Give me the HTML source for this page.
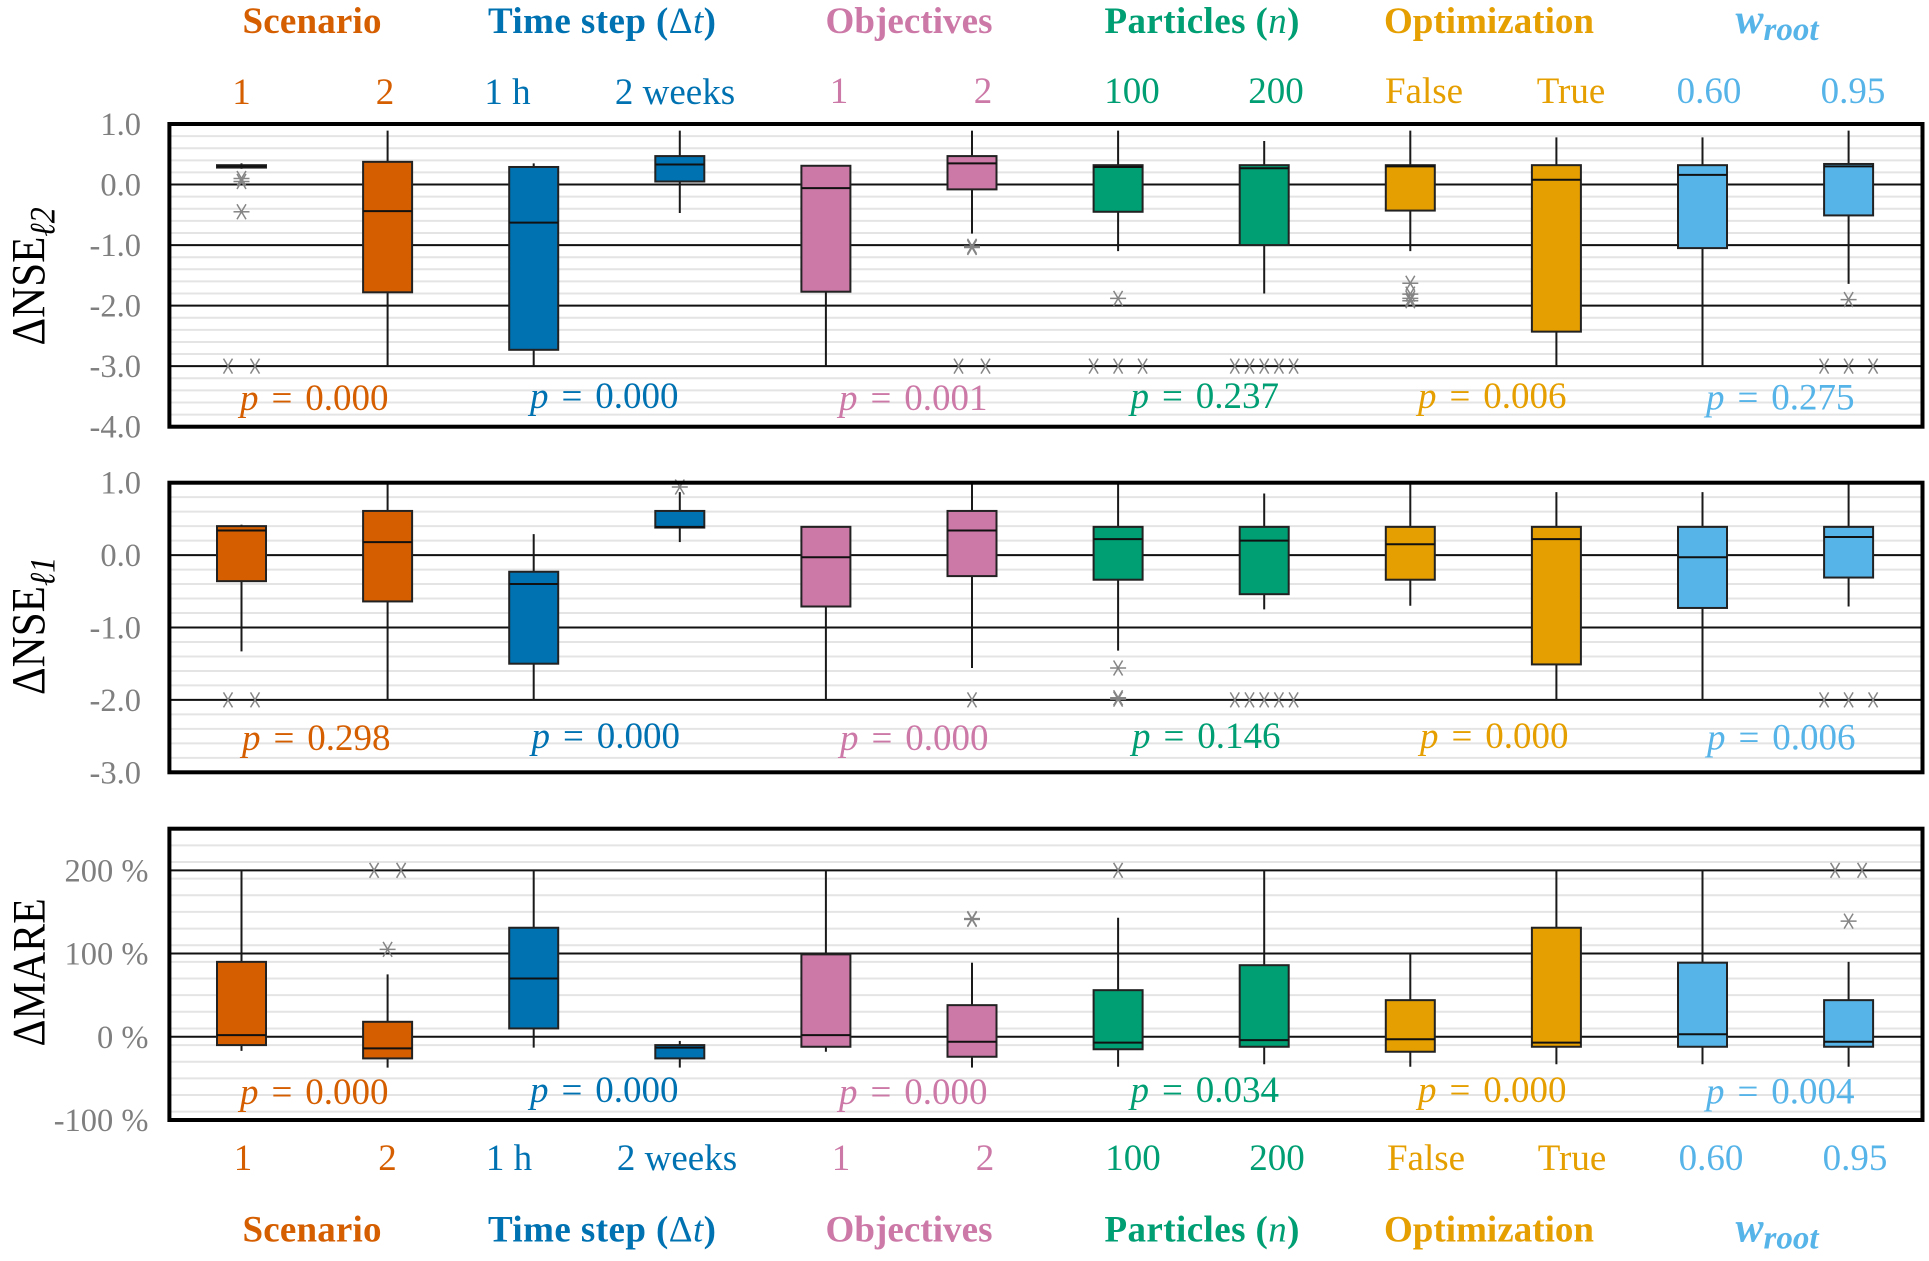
<!DOCTYPE html>
<html lang="en">
<head>
<meta charset="utf-8">
<title>Box plots of delta NSE and MARE by factor</title>
<style>
html,body{margin:0;padding:0;background:#fff;}
svg{display:block;font-family:"Liberation Serif",serif;}
.ttl{font-size:37px;font-weight:bold;text-anchor:middle;}
.cat{font-size:37px;text-anchor:middle;}
.c1{fill:#D55E00}.c2{fill:#0072B2}.c3{fill:#CC79A7}.c4{fill:#009E73}.c5{fill:#E69F00}.c6{fill:#56B4E9}
</style>
</head>
<body>
<svg id="chart" width="1929" height="1261" viewBox="0 0 1929 1261" xmlns="http://www.w3.org/2000/svg">
  <g id="panels"></g>
  <g>
    <text class="ttl c1" x="312" y="33" textLength="139">Scenario</text>
    <text class="ttl c2" x="602" y="33" textLength="228">Time step (<tspan font-weight="normal">Δ</tspan><tspan font-style="italic" font-weight="normal">t</tspan>)</text>
    <text class="ttl c3" x="909" y="33" textLength="167">Objectives</text>
    <text class="ttl c4" x="1202" y="33" textLength="195">Particles (<tspan font-style="italic" font-weight="normal">n</tspan>)</text>
    <text class="ttl c5" x="1489" y="33" textLength="210">Optimization</text>
    <text class="ttl c6" x="1777" y="33" font-style="italic" font-size="42" style="font-size:42px">w<tspan font-size="33" style="font-size:33px" dy="7">root</tspan></text>
  </g>
  <g>
    <text class="cat c1" x="241.5" y="104">1</text>
    <text class="cat c1" x="385" y="104">2</text>
    <text class="cat c2" x="507.5" y="104">1 h</text>
    <text class="cat c2" x="675" y="104">2 weeks</text>
    <text class="cat c3" x="839" y="103">1</text>
    <text class="cat c3" x="983" y="103">2</text>
    <text class="cat c4" x="1132" y="103">100</text>
    <text class="cat c4" x="1276" y="103">200</text>
    <text class="cat c5" x="1424" y="103">False</text>
    <text class="cat c5" x="1571" y="103">True</text>
    <text class="cat c6" x="1709" y="103">0.60</text>
    <text class="cat c6" x="1853" y="103">0.95</text>
  </g>
  <g>
    <text class="cat c1" x="243" y="1170">1</text>
    <text class="cat c1" x="387.5" y="1170">2</text>
    <text class="cat c2" x="509" y="1170">1 h</text>
    <text class="cat c2" x="677" y="1170">2 weeks</text>
    <text class="cat c3" x="841" y="1170">1</text>
    <text class="cat c3" x="985" y="1170">2</text>
    <text class="cat c4" x="1133" y="1170">100</text>
    <text class="cat c4" x="1277" y="1170">200</text>
    <text class="cat c5" x="1426" y="1170">False</text>
    <text class="cat c5" x="1572" y="1170">True</text>
    <text class="cat c6" x="1711" y="1170">0.60</text>
    <text class="cat c6" x="1855" y="1170">0.95</text>
  </g>
  <g>
    <text class="ttl c1" x="312" y="1241.5" textLength="139">Scenario</text>
    <text class="ttl c2" x="602" y="1241.5" textLength="228">Time step (<tspan font-weight="normal">Δ</tspan><tspan font-style="italic" font-weight="normal">t</tspan>)</text>
    <text class="ttl c3" x="909" y="1241.5" textLength="167">Objectives</text>
    <text class="ttl c4" x="1202" y="1241.5" textLength="195">Particles (<tspan font-style="italic" font-weight="normal">n</tspan>)</text>
    <text class="ttl c5" x="1489" y="1241.5" textLength="210">Optimization</text>
    <text class="ttl c6" x="1777" y="1241.5" font-style="italic" style="font-size:42px">w<tspan style="font-size:33px" dy="7">root</tspan></text>
  </g>
  <g fill="#000">
    <text transform="translate(44.5 345.5) rotate(-90) scale(1 1.12)" font-size="43">ΔNSE<tspan font-size="32" font-style="italic" dy="9">ℓ2</tspan></text>
    <text transform="translate(44.5 695) rotate(-90) scale(1 1.12)" font-size="43">ΔNSE<tspan font-size="32" font-style="italic" dy="9">ℓ1</tspan></text>
    <text transform="translate(44.5 1046.5) rotate(-90) scale(1 1.12)" font-size="42">ΔMARE</text>
  </g>
</svg>
<script>
const categories = ["Scenario 1","Scenario 2","1 h","2 weeks","Objectives 1","Objectives 2","100","200","False","True","0.60","0.95"];

const nse2Ticks = ["1.0","0.0","-1.0","-2.0","-3.0","-4.0"];
const nse2TickValues = [1,0,-1,-2,-3,-4];
const nse2Q1 = [0.28,-1.78,-2.73,0.05,-1.77,-0.08,-0.45,-1.0,-0.43,-2.43,-1.05,-0.51];
const nse2Median = [0.30,-0.44,-0.63,0.33,-0.06,0.35,0.29,0.27,0.30,0.08,0.16,0.30];
const nse2Q3 = [0.32,0.375,0.29,0.47,0.31,0.47,0.32,0.32,0.32,0.32,0.32,0.34];
const nse2Low = [0.26,-3,-3,-0.47,-3,-0.81,-1.1,-1.8,-1.1,-3,-3,-1.64];
const nse2High = [0.35,0.89,0.35,0.89,0.31,0.89,0.89,0.72,0.89,0.78,0.78,0.89];
const nse2Outliers = [[0.05,0.1,-0.45,-3,-3],[],[],[],[],[-1.02,-1.04,-3,-3],[-1.88,-3,-3,-3],[-3,-3,-3,-3,-3],[-1.63,-1.81,-1.88,-1.92],[],[],[-1.9,-3,-3,-3]];
const nse2PValues = ["0.000","0.000","0.001","0.237","0.006","0.275"];

const nse1Ticks = ["1.0","0.0","-1.0","-2.0","-3.0"];
const nse1TickValues = [1,0,-1,-2,-3];
const nse1Q1 = [-0.36,-0.64,-1.5,0.38,-0.71,-0.29,-0.34,-0.54,-0.34,-1.51,-0.73,-0.31];
const nse1Median = [0.34,0.18,-0.40,0.39,-0.03,0.34,0.22,0.20,0.15,0.22,-0.03,0.25];
const nse1Q3 = [0.40,0.61,-0.23,0.61,0.39,0.61,0.39,0.39,0.39,0.39,0.39,0.39];
const nse1Low = [-1.33,-2,-2,0.18,-2,-1.56,-1.32,-0.75,-0.7,-2,-2,-0.71];
const nse1High = [0.42,1,0.29,0.87,0.39,1,1,0.85,1,0.87,0.87,1];
const nse1Outliers = [[-2,-2],[],[],[0.94],[],[-2],[-1.56,-1.97,-1.99],[-2,-2,-2,-2,-2],[],[],[],[-2,-2,-2]];
const nse1PValues = ["0.298","0.000","0.000","0.146","0.000","0.006"];

const mareTicks = ["200 %","100 %","0 %","-100 %"];
const mareTickValues = [200,100,0,-100];
const mareQ1 = [-10,-26,10,-26,-12,-24,-15,-12,-18,-12,-12,-12];
const mareMedian = [2,-14,70,-13,2,-6,-7,-4,-3,-7,3,-6];
const mareQ3 = [90,18,131,-10,99,38,56,86,44,131,89,44];
const mareLow = [-17,-37,-13,-37,-18,-37,-36,-33,-36,-33,-33,-36];
const mareHigh = [200,75,200,-5,200,89,143,200,100,200,200,90];
const mareOutliers = [[],[105,200,200],[],[],[],[141,142],[200],[],[],[],[],[139,200,200]];
const marePValues = ["0.000","0.000","0.000","0.034","0.000","0.004"];

const SVGNS = "http://www.w3.org/2000/svg";
const seriesColors = ["#D55E00","#D55E00","#0072B2","#0072B2","#CC79A7","#CC79A7","#009E73","#009E73","#E69F00","#E69F00","#56B4E9","#56B4E9"];
const groupColors = ["#D55E00","#0072B2","#CC79A7","#009E73","#E69F00","#56B4E9"];
const plotLeft = 169.4, plotRight = 1922.5;

function xBand(i){ return 241.5 + 146.1 * i; }
function linearScale(d0, d1, r0, r1){
  return function(v){ return r0 + (v - d0) * (r1 - r0) / (d1 - d0); };
}
function make(tag, attrs, parent){
  const el = document.createElementNS(SVGNS, tag);
  for (const k in attrs) el.setAttribute(k, attrs[k]);
  parent.appendChild(el);
  return el;
}
function spreadStep(n){ return n === 2 ? 27 : n === 3 ? 24.5 : 14.7; }

function drawOutlier(parent, x, y, isClipped){
  const g = make("g", {stroke:"#858585","stroke-width":1.5}, parent);
  
  
  make("line", {x1:x-4.5,y1:y-7.5,x2:x+4.5,y2:y+7.5}, g);
  make("line", {x1:x-4.5,y1:y+7.5,x2:x+4.5,y2:y-7.5}, g);
  if (!isClipped) make("line", {x1:x-8,y1:y,x2:x+8,y2:y}, g);
}

function drawPanel(cfg){
  const root = document.getElementById("panels");
  const y = linearScale(cfg.domainMax, cfg.domainMin, cfg.top, cfg.bottom);
  const panel = make("g", {}, root);
  
  

  const grid = make("g", {}, panel);
  
  
  const steps = Math.round((cfg.domainMax - cfg.domainMin) / cfg.minorStep);
  for (let s = 1; s < steps; s++){
    const v = cfg.domainMax - s * cfg.minorStep;
    const line = make("line", {x1:plotLeft,x2:plotRight,y1:y(v),y2:y(v),stroke:"#e4e4e4","stroke-width":2}, grid);
    
    
  }
  cfg.tickValues.forEach(function(v){
    if (v >= cfg.domainMax || v <= cfg.domainMin) return;
    const line = make("line", {x1:plotLeft,x2:plotRight,y1:y(v),y2:y(v),stroke:"#111","stroke-width":2}, grid);
    
    
  });

  cfg.ticks.forEach(function(label, i){
    const t = make("text", {x:cfg.tickRight,y:y(cfg.tickValues[i])+11,"text-anchor":"end","font-size":32.5,fill:"#7f7f7f"}, panel);
    t.textContent = label;
    
    
  });

  categories.forEach(function(cat, i){
    const x = xBand(i);
    const g = make("g", {}, panel);
    
    
    const whisker = make("line", {x1:x,x2:x,y1:y(cfg.high[i]),y2:y(cfg.low[i]),stroke:"#1a1a1a","stroke-width":2}, g);
    
    
    const top = y(cfg.q3[i]), bot = y(cfg.q1[i]);
    const rect = make("rect", {x:x-24.5,y:top,width:49,height:Math.max(bot-top,0.5),fill:seriesColors[i],stroke:"#222","stroke-width":2}, g);
    
    
    const med = make("line", {x1:x-24.5,x2:x+24.5,y1:y(cfg.median[i]),y2:y(cfg.median[i]),stroke:"#111","stroke-width":2}, g);
    
    

    const counts = {};
    cfg.outliers[i].forEach(function(v){ counts[v] = (counts[v] || 0) + 1; });
    Object.keys(counts).forEach(function(key){
      const n = counts[key], v = parseFloat(key), step = spreadStep(n);
      for (let k = 0; k < n; k++){
        drawOutlier(g, x + (k - (n - 1) / 2) * step, y(v), v === cfg.clipValue);
      }
    });
  });

  cfg.pValues.forEach(function(val, i){
    const t = make("text", {x:cfg.pX[i],y:cfg.pBase + cfg.pDy[i],"font-size":37,"word-spacing":"3.7px",fill:groupColors[i]}, panel);
    const ital = make("tspan", {"font-style":"italic"}, t);
    ital.textContent = "p";
    t.appendChild(document.createTextNode(" = " + val));
    
    
  });

  const frame = make("rect", {x:plotLeft,y:cfg.top,width:plotRight-plotLeft,height:cfg.bottom-cfg.top,fill:"none",stroke:"#000","stroke-width":4}, panel);
  
  
}

const pDyRow = [2,0,2,0,0,1.5];
drawPanel({name:"panel-nse-l2",top:124,bottom:426.7,domainMax:1,domainMin:-4,minorStep:0.2,clipValue:-3,
  ticks:nse2Ticks,tickValues:nse2TickValues,tickRight:141,q1:nse2Q1,median:nse2Median,q3:nse2Q3,low:nse2Low,high:nse2High,outliers:nse2Outliers,
  pValues:nse2PValues,pX:[240,530,839,1130.5,1418,1706],pBase:408,pDy:pDyRow});
drawPanel({name:"panel-nse-l1",top:482.7,bottom:772.3,domainMax:1,domainMin:-3,minorStep:0.2,clipValue:-2,
  ticks:nse1Ticks,tickValues:nse1TickValues,tickRight:141,q1:nse1Q1,median:nse1Median,q3:nse1Q3,low:nse1Low,high:nse1High,outliers:nse1Outliers,
  pValues:nse1PValues,pX:[242,531.5,840,1132,1420,1707],pBase:748,pDy:pDyRow});
drawPanel({name:"panel-mare",top:828.7,bottom:1120,domainMax:250,domainMin:-100,minorStep:20,clipValue:200,
  ticks:mareTicks,tickValues:mareTickValues,tickRight:148.5,q1:mareQ1,median:mareMedian,q3:mareQ3,low:mareLow,high:mareHigh,outliers:mareOutliers,
  pValues:marePValues,pX:[240,530,839,1130.5,1418,1706],pBase:1102,pDy:pDyRow});
</script>
</body>
</html>
